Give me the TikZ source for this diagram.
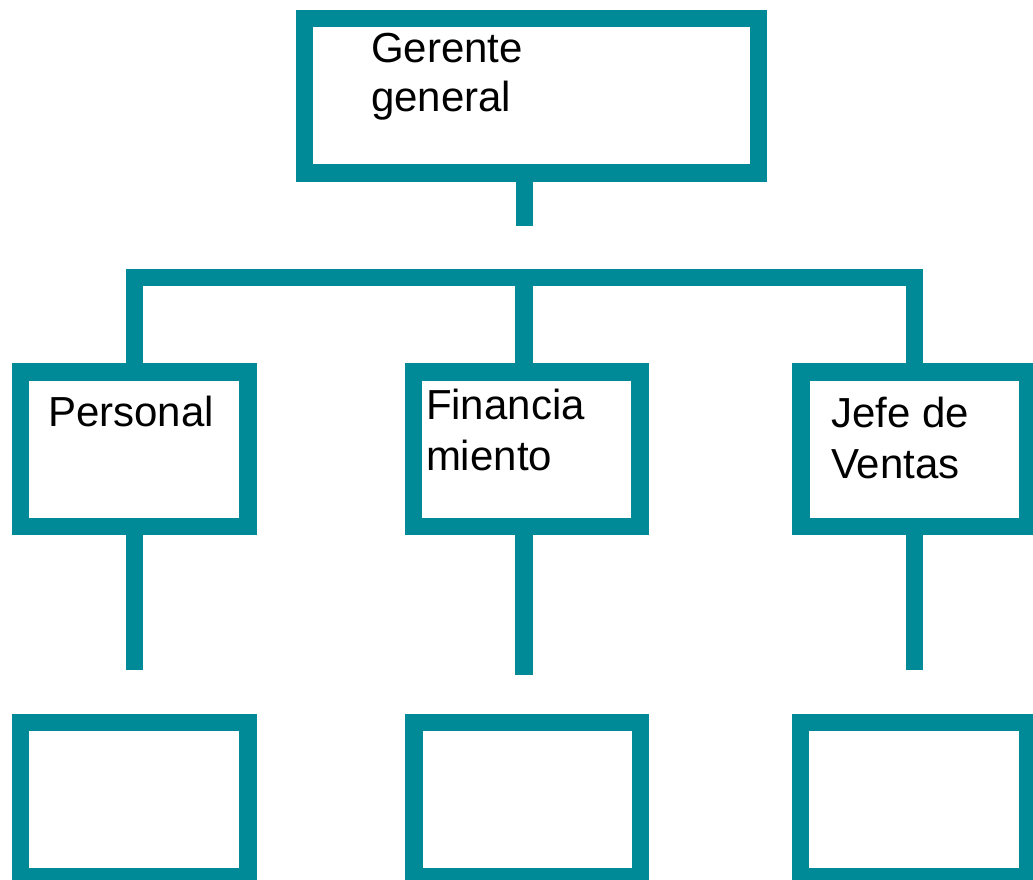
\documentclass[tikz,border=0pt]{standalone}
\usepackage{fontspec}
\setmainfont{Liberation Sans}
\definecolor{orgteal}{RGB}{0,138,152}
\tikzset{
  orgbox/.style={draw=orgteal, line width=17.5pt, rectangle, inner sep=0pt, minimum height=154.5pt, fill=none},
  conn/.style={draw=orgteal, line width=17.5pt, line join=miter, line cap=butt},
  lbl/.style={anchor=base west, inner sep=0pt, outer sep=0pt, align=left, text=black,
    font=\fontsize{42pt}{50pt}\selectfont}
}
\begin{document}
\begin{tikzpicture}[x=1pt,y=-1pt]
\useasboundingbox (0,0) rectangle (1033,879);
\clip (0,0) rectangle (1033,879);
% boxes
\node[orgbox, minimum width=454pt, minimum height=154.7pt] (gg) at (531.6,95.6) {};
\node[orgbox, minimum width=227.5pt] (pe) at (134.25,449.2) {};
\node[orgbox, minimum width=226.5pt] (fi) at (526.75,449.2) {};
\node[orgbox, minimum width=226.5pt] (jv) at (914.25,449.2) {};
\node[orgbox, minimum width=227.5pt] (b1) at (134.25,799.5) {};
\node[orgbox, minimum width=226.5pt] (b2) at (527.25,799.5) {};
\node[orgbox, minimum width=227pt] (b3) at (914,799.5) {};
% free ends
\coordinate (ggs) at (524.5,226);
\coordinate (barL) at (134.5,277.5);
\coordinate (barM) at (524,277.5);
\coordinate (barR) at (914.5,277.5);
\coordinate (s1) at (134.5,670);
\coordinate (s2) at (524,675);
\coordinate (s3) at (914.5,670);
% connectors
\draw[conn] (gg.south -| ggs) -- (ggs);
\draw[conn] (pe.north -| barL) -- (barL) -- (barR) -- (jv.north -| barR);
\draw[conn] (barM) -- (fi.north -| barM);
\draw[conn] (pe.south -| s1) -- (s1);
\draw[conn] (fi.south -| s2) -- (s2);
\draw[conn] (jv.south -| s3) -- (s3);
% labels
\node[lbl, font=\fontsize{42pt}{49pt}\selectfont] (tgg) at (371,111) {Gerente\\general};
\node[lbl] (tpe) at (48,426) {Personal};
\node[lbl, font=\fontsize{42pt}{51pt}\selectfont] (tfi) at (426,470) {Financia\\miento};
\node[lbl, font=\fontsize{42pt}{51pt}\selectfont] (tjv) at (831,478) {Jefe de\\Ventas};
\end{tikzpicture}
\end{document}
